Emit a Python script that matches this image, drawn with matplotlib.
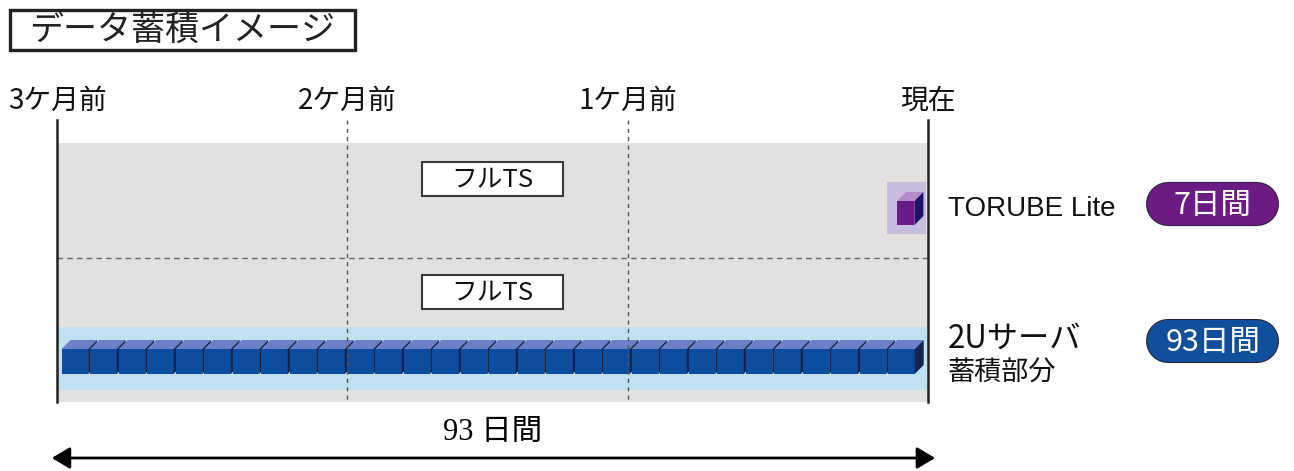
import matplotlib.pyplot as plt
from matplotlib.patches import Rectangle, Polygon

plt.rcParams['font.family'] = ['Noto Sans CJK JP', 'DejaVu Sans']

# data
title = 'データ蓄積イメージ'
month_labels = ['3ケ月前', '2ケ月前', '1ケ月前', '現在']
month_days = [0, 31, 61, 93]
total_days = 93
n_cubes = 30
row_names = ['TORUBE Lite', '2Uサーバ']
row_sub = ['', '蓄積部分']
row_periods = ['7日間', '93日間']
row_colors = ['#6a1c84', '#0f4f9b']
span_label = '93 日間'

# scale: pixels per day on the x axis
ppd = 871 / total_days

fig = plt.figure(figsize=(12.94, 4.71), dpi=100)
ax = fig.add_axes([0, 0, 1, 1])
ax.set_xlim(-57 / ppd, (1294 - 57) / ppd)
ax.set_ylim(471, 0)
ax.axis('off')

# title box
ax.add_patch(Rectangle((-5.0, 10), 36.8, 40, facecolor='white', edgecolor='#222222', lw=2.4))
ax.text(13.4, 31, title, ha='center', va='center', fontsize=24.5, color='#222222')

# background areas
ax.add_patch(Rectangle((0, 143), total_days, 259, facecolor='#e3e1df', edgecolor='none', zorder=0))
ax.add_patch(Rectangle((0, 327), total_days, 63, facecolor='#bfe1f1', edgecolor='none', zorder=1))
ax.plot([0, total_days], [258, 258], color='#6a6a6a', lw=1, dashes=(4, 3), zorder=2)

# month lines and labels
for d, lab in zip(month_days, month_labels):
    if d in (0, total_days):
        ax.plot([d, d], [120, 402], color='#222222', lw=1.8, zorder=5)
    else:
        ax.plot([d, d], [120, 402], color='#555555', lw=1, dashes=(3, 3), zorder=5)
    ax.text(d, 101, lab, ha='center', va='center', fontsize=20, color='#111111')

# フルTS boxes
for yc in [179, 292]:
    ax.add_patch(Rectangle((total_days / 2 - 7.5, yc - 17), 15, 34, facecolor='white',
                           edgecolor='#3a3a3a', lw=1.5, zorder=3))
    ax.text(total_days / 2, yc, 'フルTS', ha='center', va='center', fontsize=18.5, color='#111111', zorder=4)

# cubes (2U server)
pitch = (total_days - 1.7) / n_cubes
gap = 0.22
w = pitch - gap
dx, dy = 9 / ppd, 9
y_top, y_bot = 349, 374
for i in range(n_cubes):
    x0 = 0.5 + i * pitch
    x1 = x0 + w
    ax.add_patch(Polygon([(x0, y_top), (x1, y_top), (x1 + dx, y_top - dy), (x0 + dx, y_top - dy)],
                         closed=True, facecolor='#6d7fc6', edgecolor='none', zorder=3))
    ax.add_patch(Rectangle((x0, y_top), w, y_bot - y_top, facecolor='#0c4d9f', edgecolor='none', zorder=3))
    ax.add_patch(Polygon([(x1, y_top), (x1, y_bot), (x1 + dx, y_bot - dy), (x1 + dx, y_top - dy)],
                         closed=True, facecolor='#16244f', edgecolor='none', zorder=3))

# TORUBE Lite cube
ax.add_patch(Rectangle((total_days - 4.4, 182), 4.2, 52, facecolor='#c7bddf', edgecolor='none', zorder=2))
lx0 = total_days - 3.3
lx1 = lx0 + 1.85
ax.add_patch(Polygon([(lx0, 201), (lx1, 201), (lx1 + dx, 192), (lx0 + dx, 192)],
                     closed=True, facecolor='#b48bc9', edgecolor='none', zorder=3))
ax.add_patch(Rectangle((lx0, 201), lx1 - lx0, 24, facecolor='#6c1a8a', edgecolor='none', zorder=3))
ax.add_patch(Polygon([(lx1, 201), (lx1, 225), (lx1 + dx, 216), (lx1 + dx, 192)],
                     closed=True, facecolor='#1b1466', edgecolor='none', zorder=3))

# right side labels
ax.text(95.1, 209, row_names[0], ha='left', va='center', fontsize=20, color='#111111',
        family=['Liberation Sans', 'Noto Sans CJK JP'])
ax.text(95.1, 339, row_names[1], ha='left', va='center', fontsize=22.5, color='#111111')
ax.text(95.1, 373, row_sub[1], ha='left', va='center', fontsize=19.5, color='#111111')

# pills: thick lines with round caps (42 px tall)
r = 21 / ppd
pill_lw = 42 * 72 / 100
for yc, per, col in zip([204, 341], row_periods, row_colors):
    ax.plot([116.4 + r, 130.39 - r], [yc, yc], color='#2a2238', lw=pill_lw + 1.5,
            solid_capstyle='round', zorder=3)
    ax.plot([116.4 + r, 130.39 - r], [yc, yc], color=col, lw=pill_lw,
            solid_capstyle='round', zorder=3)
    ax.text(123.4, yc + 1, per, ha='center', va='center', fontsize=22, color='white', zorder=4)

# bottom span
ax.text(total_days / 2, 432, span_label, ha='center', va='center', fontsize=22, color='black',
        family=['Liberation Serif', 'Noto Sans CJK JP'])
ax.annotate('', xy=(total_days + 0.75, 458), xytext=(-0.55, 458),
            arrowprops=dict(arrowstyle='<|-|>,head_length=0.55,head_width=0.33', lw=2,
                            color='black', mutation_scale=20, shrinkA=0, shrinkB=0))

fig.savefig('out.png', dpi=100)
